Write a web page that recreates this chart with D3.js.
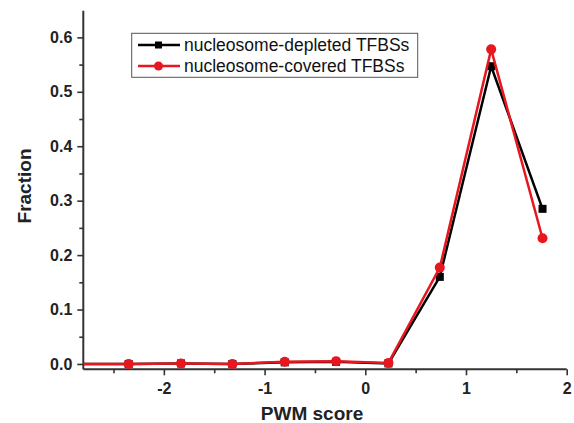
<!DOCTYPE html>
<html><head><meta charset="utf-8">
<script src="https://cdn.jsdelivr.net/npm/d3@7"></script>
<style>body{margin:0;background:#fff}svg{display:block}</style>
</head><body>
<svg id="c" width="574" height="423"></svg>
<script>
const xValues = [-2.86, -2.35, -1.83, -1.32, -0.80, -0.29, 0.23, 0.74, 1.25, 1.76];
const depleted = [0.0, 0.0, 0.001, 0.0, 0.003, 0.004, 0.001, 0.160, 0.547, 0.285];
const covered  = [0.0, 0.0, 0.001, 0.0, 0.004, 0.005, 0.002, 0.177, 0.578, 0.231];
const seriesNames = ["nucleosome-depleted TFBSs", "nucleosome-covered TFBSs"];
const xTicks = [-2, -1, 0, 1, 2];
const yTicks = [0.0, 0.1, 0.2, 0.3, 0.4, 0.5, 0.6];

const svg = d3.select("#c");
const L = 83.3, R = 566.7, T = 10.7, B = 369.3;
const x = d3.scaleLinear().domain([-2.8, 2.0]).range([L, R]);
const y = d3.scaleLinear().domain([-0.0098, 0.649]).range([B, T]);
const font = "'Liberation Sans', Arial, sans-serif";
const axisColor = "#333";

svg.append("defs").append("clipPath").attr("id", "clip")
  .append("rect").attr("x", L).attr("y", 0).attr("width", R - L + 12).attr("height", B);

// axes
const xAxis = svg.append("g").attr("transform", `translate(0,${B})`)
  .call(d3.axisBottom(x).tickValues(xTicks).tickSize(6).tickPadding(7).tickFormat(d => String(d)));
const xMinor = svg.append("g").attr("transform", `translate(0,${B})`)
  .call(d3.axisBottom(x).tickValues([-2.5, -1.5, -0.5, 0.5, 1.5]).tickSize(4).tickFormat(""));
const yAxis = svg.append("g").attr("transform", `translate(${L},0)`)
  .call(d3.axisLeft(y).tickValues(yTicks).tickSize(6).tickPadding(5).tickFormat(d => d.toFixed(1)));
const yMinor = svg.append("g").attr("transform", `translate(${L},0)`)
  .call(d3.axisLeft(y).tickValues([0.05, 0.15, 0.25, 0.35, 0.45, 0.55]).tickSize(4).tickFormat(""));

[xAxis, xMinor, yAxis, yMinor].forEach(g => {
  g.select(".domain").remove();
  g.selectAll("line").attr("stroke", axisColor).attr("stroke-width", 1.6);
  g.selectAll("text").attr("font-family", font).attr("font-weight", "bold")
    .attr("font-size", 16).attr("fill", "#222");
});
svg.append("line").attr("x1", L).attr("x2", L).attr("y1", T).attr("y2", B)
  .attr("stroke", axisColor).attr("stroke-width", 2);
svg.append("line").attr("x1", L).attr("x2", R).attr("y1", B).attr("y2", B)
  .attr("stroke", axisColor).attr("stroke-width", 2);

// titles
svg.append("text").attr("x", 312).attr("y", 420).attr("text-anchor", "middle")
  .attr("font-family", font).attr("font-weight", "bold").attr("font-size", 19).attr("fill", "#222")
  .text("PWM score");
svg.append("text").attr("transform", `translate(31,186) rotate(-90)`)
  .attr("text-anchor", "middle")
  .attr("font-family", font).attr("font-weight", "bold").attr("font-size", 19).attr("fill", "#222")
  .text("Fraction");

// series
const line = d3.line().x((d, i) => x(xValues[i])).y(d => y(d));
const plot = svg.append("g").attr("clip-path", "url(#clip)");
const series = [
  {vals: depleted, color: "#000000", shape: "square"},
  {vals: covered, color: "#e8161e", shape: "circle"}
];
series.forEach(s => {
  plot.append("path").datum(s.vals).attr("d", line).attr("fill", "none")
    .attr("stroke", s.color).attr("stroke-width", 2.5).attr("stroke-linejoin", "miter");
  const pts = s.vals.map((v, i) => ({x: xValues[i], y: v})).filter(p => p.x >= -2.8);
  if (s.shape === "square") {
    plot.selectAll(null).data(pts).enter().append("rect")
      .attr("x", d => x(d.x) - 4).attr("y", d => y(d.y) - 4)
      .attr("width", 8).attr("height", 8).attr("fill", s.color);
  } else {
    plot.selectAll(null).data(pts).enter().append("circle")
      .attr("cx", d => x(d.x)).attr("cy", d => y(d.y)).attr("r", 5).attr("fill", s.color);
  }
});

// legend
const lg = svg.append("g");
lg.append("rect").attr("x", 131.7).attr("y", 33.3).attr("width", 286).attr("height", 44)
  .attr("fill", "#fff").attr("stroke", "#555").attr("stroke-width", 1);
series.forEach((s, i) => {
  const yy = 45 + i * 21;
  lg.append("line").attr("x1", 138).attr("x2", 180).attr("y1", yy).attr("y2", yy)
    .attr("stroke", s.color).attr("stroke-width", 2.5);
  if (s.shape === "square") {
    lg.append("rect").attr("x", 155).attr("y", yy - 3.5).attr("width", 7).attr("height", 7).attr("fill", s.color);
  } else {
    lg.append("circle").attr("cx", 158.5).attr("cy", yy).attr("r", 4.5).attr("fill", s.color);
  }
  lg.append("text").attr("x", 184).attr("y", yy + 6).attr("font-family", font)
    .attr("font-size", 17.5).attr("fill", "#111").text(seriesNames[i]);
});
</script>
</body></html>
